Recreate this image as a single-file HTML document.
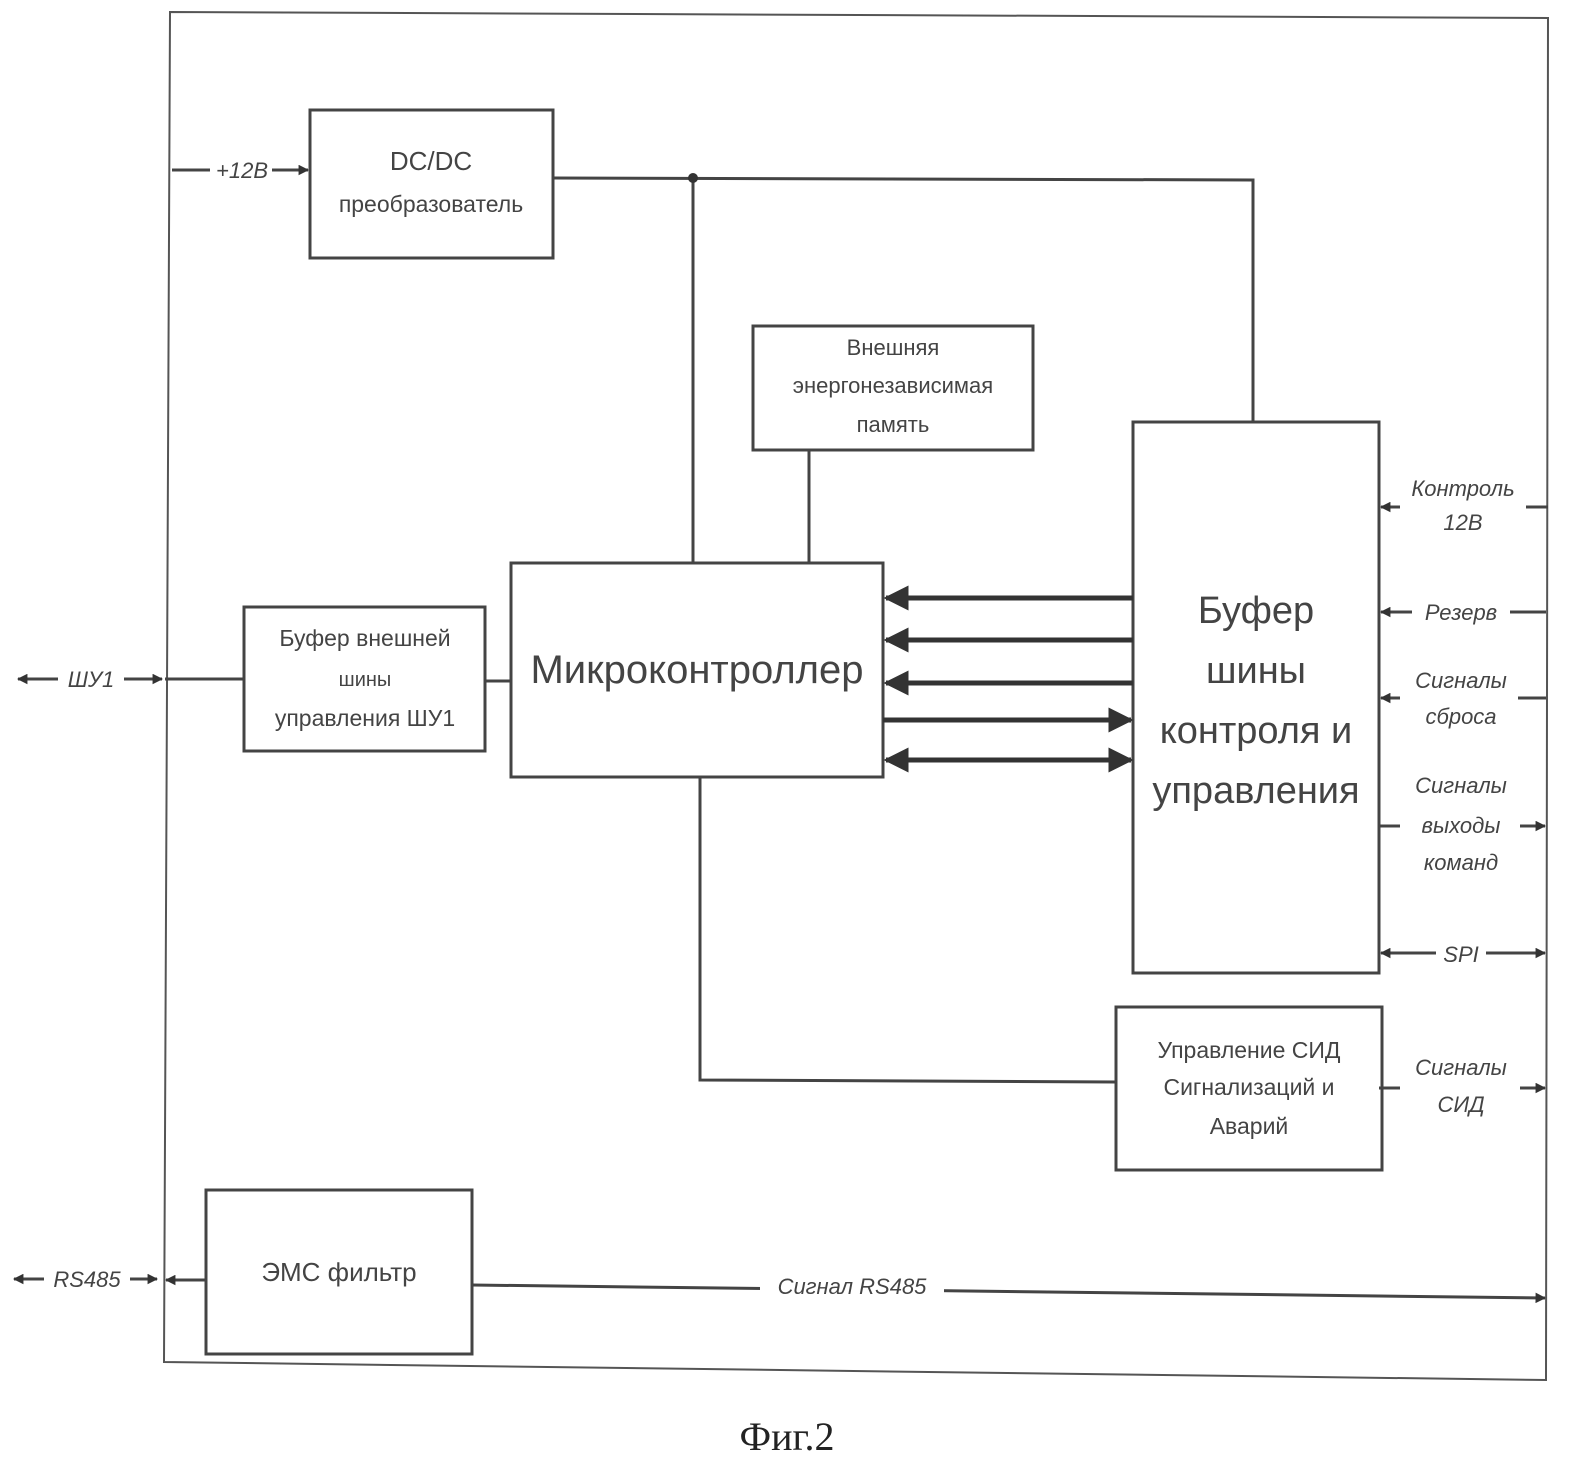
<!DOCTYPE html>
<html><head><meta charset="utf-8"><style>
html,body{margin:0;padding:0;background:#fff;}
svg{display:block;}
text{font-family:"Liberation Sans",sans-serif;fill:#444;}
.i{font-style:italic;}
</style></head><body>
<svg width="1574" height="1469" viewBox="0 0 1574 1469" xmlns="http://www.w3.org/2000/svg">
<defs>
<marker id="a" viewBox="0 0 10 10" refX="9" refY="5" markerWidth="5" markerHeight="5" orient="auto-start-reverse"><path d="M0,0L10,5L0,10z" fill="#333"/></marker>
<marker id="b" viewBox="0 0 10 10" refX="9" refY="5" markerWidth="3.5" markerHeight="3.5" orient="auto-start-reverse"><path d="M0,0L10,5L0,10z" fill="#333"/></marker>
</defs>
<g fill="none" stroke="#555" stroke-width="2">
<polygon points="170,12 1548,18 1546,1380 164,1362"/>
</g>
<g fill="#fff" stroke="#444" stroke-width="3">
<rect x="310" y="110" width="243" height="148"/>
<rect x="753" y="326" width="280" height="124"/>
<rect x="511" y="563" width="372" height="214"/>
<rect x="244" y="607" width="241" height="144"/>
<rect x="1133" y="422" width="246" height="551"/>
<rect x="1116" y="1007" width="266" height="163"/>
<rect x="206" y="1190" width="266" height="164"/>
</g>
<g fill="none" stroke="#444" stroke-width="3">
<polyline points="553,178 1253,180 1253,422"/>
<line x1="693" y1="178" x2="693" y2="563"/>
<line x1="809" y1="450" x2="809" y2="563"/>
<line x1="165" y1="679" x2="244" y2="679"/>
<line x1="485" y1="681" x2="511" y2="681"/>
<polyline points="700,777 700,1080 1116,1082"/>
<line x1="472" y1="1285" x2="1545" y2="1298" marker-end="url(#b)"/>
<line x1="206" y1="1280" x2="166" y2="1280" marker-end="url(#b)"/>
<line x1="1379" y1="1088" x2="1545" y2="1088" marker-end="url(#b)"/>
<line x1="1548" y1="507" x2="1381" y2="507" marker-end="url(#b)"/>
<line x1="1546" y1="612" x2="1381" y2="612" marker-end="url(#b)"/>
<line x1="1546" y1="698" x2="1381" y2="698" marker-end="url(#b)"/>
<line x1="1379" y1="826" x2="1545" y2="826" marker-end="url(#b)"/>
<line x1="1381" y1="953" x2="1545" y2="953" marker-start="url(#b)" marker-end="url(#b)"/>
<line x1="18" y1="679" x2="162" y2="679" marker-start="url(#b)" marker-end="url(#b)"/>
<line x1="14" y1="1279" x2="157" y2="1279" marker-start="url(#b)" marker-end="url(#b)"/>
<line x1="172" y1="170" x2="308" y2="170" marker-end="url(#b)"/>
</g>
<g fill="none" stroke="#333" stroke-width="5">
<line x1="1133" y1="598" x2="886" y2="598" marker-end="url(#a)"/>
<line x1="1133" y1="640" x2="886" y2="640" marker-end="url(#a)"/>
<line x1="1133" y1="683" x2="886" y2="683" marker-end="url(#a)"/>
<line x1="883" y1="720" x2="1131" y2="720" marker-end="url(#a)"/>
<line x1="886" y1="760" x2="1131" y2="760" marker-start="url(#a)" marker-end="url(#a)"/>
</g>
<circle cx="693" cy="178" r="5" fill="#333"/>
<g fill="#fff">
<rect x="210" y="158" width="62" height="24"/>
<rect x="58" y="666" width="66" height="26"/>
<rect x="44" y="1266" width="86" height="26"/>
<rect x="760" y="1272" width="184" height="28"/>
<rect x="1400" y="470" width="126" height="75"/>
<rect x="1412" y="598" width="98" height="28"/>
<rect x="1400" y="660" width="118" height="75"/>
<rect x="1400" y="770" width="120" height="112"/>
<rect x="1436" y="940" width="50" height="28"/>
<rect x="1400" y="1048" width="120" height="80"/>
</g>
<text x="242" y="178" font-size="22" text-anchor="middle" class="i">+12В</text>
<text x="91" y="687" font-size="22" text-anchor="middle" class="i">ШУ1</text>
<text x="87" y="1287" font-size="22" text-anchor="middle" class="i">RS485</text>
<text x="852" y="1294" font-size="22" text-anchor="middle" class="i">Сигнал RS485</text>
<g font-size="22" text-anchor="middle" class="i">
<text x="1463" y="496">Контроль</text><text x="1463" y="530">12В</text>
<text x="1461" y="620">Резерв</text>
<text x="1461" y="688">Сигналы</text><text x="1461" y="724">сброса</text>
<text x="1461" y="793">Сигналы</text><text x="1461" y="833">выходы</text><text x="1461" y="870">команд</text>
<text x="1461" y="962">SPI</text>
<text x="1461" y="1075">Сигналы</text><text x="1461" y="1112">СИД</text>
</g>
<g text-anchor="middle">
<text x="431" y="170" font-size="26">DC/DC</text>
<text x="431" y="212" font-size="23">преобразователь</text>
<text x="893" y="355" font-size="22">Внешняя</text>
<text x="893" y="393" font-size="22">энергонезависимая</text>
<text x="893" y="432" font-size="22">память</text>
<text x="697" y="683" font-size="40">Микроконтроллер</text>
<text x="365" y="646" font-size="23">Буфер внешней</text>
<text x="365" y="686" font-size="20">шины</text>
<text x="365" y="726" font-size="23">управления ШУ1</text>
<text x="1256" y="623" font-size="38">Буфер</text>
<text x="1256" y="683" font-size="38">шины</text>
<text x="1256" y="743" font-size="38">контроля и</text>
<text x="1256" y="803" font-size="38">управления</text>
<text x="1249" y="1058" font-size="23">Управление СИД</text>
<text x="1249" y="1095" font-size="23">Сигнализаций и</text>
<text x="1249" y="1134" font-size="23">Аварий</text>
<text x="339" y="1281" font-size="26">ЭМС фильтр</text>
<text x="787" y="1450" font-size="40" style="font-family:'Liberation Serif',serif;fill:#222">Фиг.2</text>
</g>
</svg>
</body></html>
